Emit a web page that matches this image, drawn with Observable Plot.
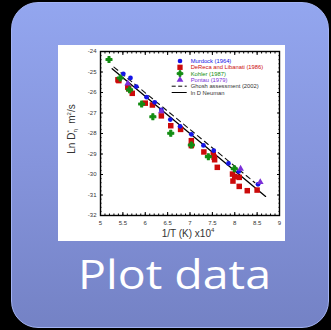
<!DOCTYPE html>
<html><head><meta charset="utf-8">
<script src="https://cdn.jsdelivr.net/npm/d3@7"></script>
<script src="https://cdn.jsdelivr.net/npm/@observablehq/plot@0.6"></script>
<style>
html,body{margin:0;padding:0;background:#000;width:331px;height:330px;overflow:hidden}
#tile{position:absolute;left:11px;top:2px;width:318px;height:326px;border-radius:27px;background:linear-gradient(180deg,#93a6ef 0%,#8594dc 50%,#7482c5 100%);box-sizing:border-box;border:1px solid #a3b3f3}
#panel{position:absolute;left:58px;top:45px;width:227px;height:196px;background:#fff}
#panel svg{position:absolute;left:0;top:0}
.lab{position:absolute;white-space:nowrap;font-family:"Liberation Sans",Arial,sans-serif;font-size:10px;color:#333;line-height:1}
.lab sup,.lab sub{font-size:6px}
#title{position:absolute;left:0;top:0}
</style></head>
<body>
<div id="tile"></div>
<div id="panel"></div>
<svg id="title" width="331" height="330"><text x="78" y="289" font-family="'Open Sans', Lato, sans-serif" font-size="41" fill="#fff" textLength="193" lengthAdjust="spacingAndGlyphs">Plot data</text></svg>
<script>
// ---- data ----
const murdockX = [5.51,5.67,5.80,6.03,6.21,6.36,6.56,6.78,7.03,7.30,7.53,7.86,8.09,8.52];
const murdockY = [-25.09,-25.29,-25.71,-26.23,-26.48,-26.85,-27.32,-27.65,-28.04,-28.58,-28.84,-29.46,-29.85,-30.48];
const derecaX = [5.39,5.41,5.61,5.63,5.71,6.00,6.16,6.36,6.57,6.79,7.03,7.03,7.31,7.52,7.54,7.55,7.61,7.95,7.96,8.00,8.10,8.10,8.28,8.50];
const derecaY = [-25.38,-25.42,-25.74,-25.82,-26.04,-26.52,-26.61,-27.14,-27.62,-27.80,-28.35,-28.59,-28.90,-29.02,-29.16,-29.28,-29.65,-29.98,-30.32,-30.10,-30.14,-30.58,-30.79,-30.76];
const kohlerX = [5.19,5.44,5.65,5.92,6.17,6.57,7.03,7.41,7.99];
const kohlerY = [-24.39,-25.29,-25.87,-26.56,-27.18,-27.99,-28.56,-29.13,-29.72];
const pontauX = [5.61,6.36,8.13,8.57];
const pontauY = [-25.56,-26.92,-29.72,-30.37];
const ghoshX = [5.30, 8.45];
const ghoshY = [-24.76, -30.40];
const neumanX = [5.26, 8.69];
const neumanY = [-24.84, -31.07];
const xTicks = [5,5.5,6,6.5,7,7.5,8,8.5,9];
const yTicks = [-32,-31,-30,-29,-28,-27,-26,-25,-24];
const seriesNames = ["Murdock (1964)","DeReca and Libanati (1986)","Kohler (1987)","Pontau (1979)","Ghosh assessment (2002)","ln D Neuman"];
const seriesColors = ["#1414e6","#cc0a0a","#128c12","#7b2fd8","#222","#000"];

const zip = (xs, ys) => xs.map((x, i) => ({x, y: ys[i]}));
const xMinor = d3.range(50, 91).map(d => d / 10);
const yMinor = d3.range(-160, -119).map(d => d / 5);

const chart = Plot.plot({
  width: 227, height: 196,
  marginLeft: 42, marginRight: 6, marginTop: 6, marginBottom: 26,
  x: {domain: [5, 9]},
  y: {domain: [-32, -24]},
  style: {fontFamily: "'Liberation Sans', Arial, sans-serif", fontSize: "6px", background: "transparent", color: "#333"},
  marks: [
    Plot.axisX(xTicks, {tickSize: 0, tickPadding: 5, tickFormat: d => String(d), label: null, fill: "#333"}),
    Plot.axisX(xTicks, {text: null, tickSize: -3, label: null, stroke: "#000"}),
    Plot.axisX(xMinor, {text: null, tickSize: -1.5, label: null, stroke: "#000"}),
    Plot.axisX(xTicks, {anchor: "top", text: null, tickSize: -3, label: null, stroke: "#000"}),
    Plot.axisX(xMinor, {anchor: "top", text: null, tickSize: -1.5, label: null, stroke: "#000"}),
    Plot.axisY(yTicks, {tickSize: 0, tickPadding: 4, tickFormat: d => String(d), label: null, fill: "#333"}),
    Plot.axisY(yTicks, {text: null, tickSize: -3, label: null, stroke: "#000"}),
    Plot.axisY(yMinor, {text: null, tickSize: -1.5, label: null, stroke: "#000"}),
    Plot.axisY(yTicks, {anchor: "right", text: null, tickSize: -3, label: null, stroke: "#000"}),
    Plot.axisY(yMinor, {anchor: "right", text: null, tickSize: -1.5, label: null, stroke: "#000"}),
    Plot.frame({stroke: "#000", strokeWidth: 1.4}),
    Plot.line(zip(ghoshX, ghoshY), {x: "x", y: "y", stroke: "#111", strokeWidth: 1.1, strokeDasharray: "5,4"}),
    Plot.line(zip(neumanX, neumanY), {x: "x", y: "y", stroke: "#000", strokeWidth: 1.3}),
    Plot.dot(zip(derecaX, derecaY), {x: "x", y: "y", symbol: "square", r: 3.1, fill: seriesColors[1]}),
    Plot.dot(zip(murdockX, murdockY), {x: "x", y: "y", symbol: "circle", r: 2.4, fill: seriesColors[0]}),
    Plot.dot(zip(kohlerX, kohlerY), {x: "x", y: "y", symbol: "cross", r: 2.5, fill: seriesColors[2], stroke: seriesColors[2], strokeWidth: 1.1, strokeLinejoin: "round"}),
    Plot.dot(zip(pontauX, pontauY), {x: "x", y: "y", symbol: "triangle", r: 2.5, fill: seriesColors[3]})
  ]
});
const panel = document.getElementById("panel");
panel.appendChild(chart);

// legend
const leg = d3.select(panel).append("svg").attr("width", 227).attr("height", 196)
  .style("font-family", "'Liberation Sans', Arial, sans-serif").style("font-size", "5.8px");
const symbols = [d3.symbolCircle, d3.symbolSquare, d3.symbolCross, d3.symbolTriangle];
const symSizes = [17, 28, 18, 20];
seriesNames.forEach((name, i) => {
  const g = leg.append("g").attr("transform", `translate(0,${16 + i * 6.3})`);
  if (i < 4) {
    g.append("path").attr("d", d3.symbol(symbols[i], symSizes[i])()).attr("transform", "translate(122,0)")
      .attr("fill", seriesColors[i]).attr("stroke", i === 2 ? seriesColors[i] : null)
      .attr("stroke-width", 1).attr("stroke-linejoin", "round");
  } else {
    g.append("line").attr("x1", 113.7).attr("x2", 128.7).attr("stroke", "#000").attr("stroke-width", 1)
      .attr("stroke-dasharray", i === 4 ? "4,2.5" : null);
  }
  g.append("text").attr("x", 132.7).attr("dy", "0.35em").attr("fill", i < 4 ? seriesColors[i] : "#333").text(name);
});

// axis labels
const xl = document.createElement("div");
xl.className = "lab";
xl.innerHTML = "1/T (K) x10<sup>4</sup>";
xl.style.left = "130px"; xl.style.top = "188px"; xl.style.transform = "translate(-50%,-50%)";
panel.appendChild(xl);
const yl = document.createElement("div");
yl.className = "lab";
yl.innerHTML = "Ln D<span style=\"display:inline-block;vertical-align:middle;font-size:6px;line-height:0.9;text-align:left\">*<br>η</span>&nbsp;&nbsp;m<sup>2</sup>/s";
yl.style.left = "14px"; yl.style.top = "84px"; yl.style.transform = "translate(-50%,-50%) rotate(-90deg)";
panel.appendChild(yl);
</script>
</body></html>
